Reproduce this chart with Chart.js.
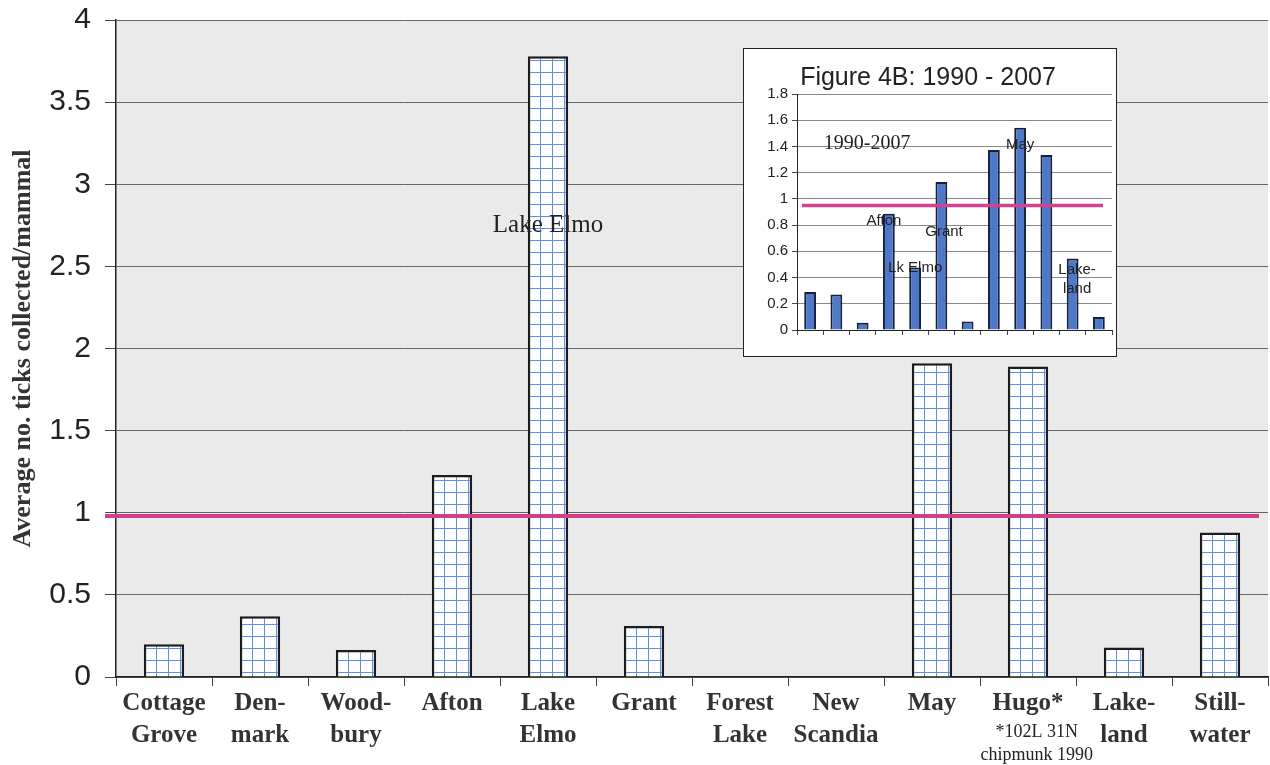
<!DOCTYPE html>
<html>
<head>
<meta charset="utf-8">
<script src="https://cdn.jsdelivr.net/npm/chart.js@4.4.1/dist/chart.umd.min.js"></script>
<style>
  html, body { margin: 0; padding: 0; background: #fff; }
  #wrap { position: relative; width: 1270px; height: 765px; }
  #mainChart { position: absolute; left: 0; top: 0; }
  #inset { position: absolute; left: 743px; top: 48px; width: 372px; height: 307px; border: 1px solid #222; background: #fff; }
  #insetChart { display: block; }
</style>
</head>
<body>
<div id="wrap">
  <canvas id="mainChart" width="1270" height="765"></canvas>
  <div id="inset"><canvas id="insetChart" width="372" height="307"></canvas></div>
</div>
<script>
// townships, 1990 sampling
var townships = [['Cottage', 'Grove'], ['Den-', 'mark'], ['Wood-', 'bury'], 'Afton', ['Lake', 'Elmo'], 'Grant',
  ['Forest', 'Lake'], ['New', 'Scandia'], 'May', 'Hugo*', ['Lake-', 'land'], ['Still-', 'water']];
var ticksPerMammal = [0.20, 0.37, 0.165, 1.23, 3.78, 0.31, 0, 0, 1.91, 1.89, 0.18, 0.88];
var mainAverage = 0.98;
var mainYMax = 4;
var mainYStep = 0.5;

// inset: Figure 4B, 1990 - 2007
var insetTitle = 'Figure 4B: 1990 - 2007';
var insetTownships = ['Cottage Grove', 'Denmark', 'Woodbury', 'Afton', 'Lake Elmo', 'Grant',
  'Forest Lake', 'New Scandia', 'May', 'Hugo', 'Lakeland', 'Stillwater'];
var insetValues = [0.29, 0.27, 0.056, 0.886, 0.476, 1.128, 0.064, 1.372, 1.543, 1.334, 0.545, 0.10];
var insetAverage = 0.95;
var insetYMax = 1.8;
var insetYStep = 0.2;

// text notes: [text, x (category index), y (value), font]
var mainNotes = [
  ['Lake Elmo', 4, 2.71, '25px "Liberation Serif"'],
  ['*102L 31N', 9.09, -0.365, '18px "Liberation Serif"'],
  ['chipmunk 1990', 9.09, -0.505, '18px "Liberation Serif"']
];
var insetNotes = [
  ['1990-2007', 2.17, 1.38, '20px "Liberation Serif"'],
  ['May', 8.0, 1.38, '15px "Liberation Sans"'],
  ['Afton', 2.81, 0.80, '15px "Liberation Sans"'],
  ['Grant', 5.1, 0.72, '15px "Liberation Sans"'],
  ['Lk Elmo', 4.0, 0.44, '15px "Liberation Sans"'],
  ['Lake-', 10.17, 0.43, '15px "Liberation Sans"'],
  ['land', 10.17, 0.28, '15px "Liberation Sans"']
];

function plainNumber(v) {
  return String(Math.round(v * 10) / 10);
}

function gridPattern(ctx) {
  var c = document.createElement('canvas');
  c.width = 12; c.height = 12;
  var g = c.getContext('2d');
  g.fillStyle = '#fff';
  g.fillRect(0, 0, 12, 12);
  g.strokeStyle = '#5c8fe4';
  g.lineWidth = 1;
  g.beginPath();
  g.moveTo(0.5, 0); g.lineTo(0.5, 12);
  g.moveTo(0, 0.5); g.lineTo(12, 0.5);
  g.stroke();
  return ctx.createPattern(c, 'repeat');
}

function refLine(value, color, width, padLeft, padRight) {
  return {
    id: 'refLine',
    afterDatasetsDraw: function (chart) {
      var a = chart.chartArea, ctx = chart.ctx;
      var y = chart.scales.y.getPixelForValue(value);
      ctx.save();
      ctx.strokeStyle = color;
      ctx.lineWidth = width;
      ctx.beginPath();
      ctx.moveTo(a.left + padLeft, y);
      ctx.lineTo(a.right - padRight, y);
      ctx.stroke();
      ctx.restore();
    }
  };
}

function notesPlugin(notes) {
  return {
    id: 'notes',
    afterDraw: function (chart) {
      var ctx = chart.ctx;
      ctx.save();
      ctx.fillStyle = '#222';
      ctx.textAlign = 'center';
      ctx.textBaseline = 'alphabetic';
      notes.forEach(function (n) {
        ctx.font = n[3];
        ctx.fillText(n[0], chart.scales.x.getPixelForValue(n[1]), chart.scales.y.getPixelForValue(n[2]));
      });
      ctx.restore();
    }
  };
}

var plotBg = {
  id: 'plotBg',
  beforeDraw: function (chart) {
    var a = chart.chartArea, ctx = chart.ctx;
    ctx.save();
    ctx.fillStyle = '#eaeaea';
    ctx.fillRect(a.left, a.top, a.right - a.left, a.bottom - a.top);
    ctx.restore();
  }
};

var mainCtx = document.getElementById('mainChart').getContext('2d');
new Chart(mainCtx, {
  type: 'bar',
  data: {
    labels: townships,
    datasets: [{
      data: ticksPerMammal,
      backgroundColor: gridPattern(mainCtx),
      borderColor: '#1c1c1c',
      borderWidth: 2.5,
      barPercentage: 0.42,
      categoryPercentage: 1
    }]
  },
  options: {
    responsive: false,
    devicePixelRatio: 1,
    animation: false,
    layout: { padding: { top: 20, right: 2, left: 0, bottom: 0 } },
    plugins: { legend: { display: false }, tooltip: { enabled: false } },
    scales: {
      x: {
        offset: true,
        afterFit: function (s) { s.height = 88; },
        grid: { drawOnChartArea: false, offset: true, tickLength: 9, color: '#444' },
        border: { color: '#222', width: 1.5 },
        ticks: {
          color: '#333', padding: 2, maxRotation: 0, autoSkip: false,
          font: { family: '"Liberation Serif"', size: 25, weight: 'bold', lineHeight: 1.28 }
        }
      },
      y: {
        min: 0, max: mainYMax,
        afterFit: function (s) { s.width = 116; s.paddingTop = 0; s.paddingBottom = 0; },
        grid: { color: '#666', tickLength: 11, tickColor: '#444' },
        border: { color: '#222', width: 1.5 },
        ticks: {
          stepSize: mainYStep, color: '#222', padding: 14, callback: plainNumber,
          font: { family: '"Liberation Sans"', size: 30 }
        },
        title: {
          display: true, text: 'Average no. ticks collected/mammal', color: '#333',
          padding: { top: 8, bottom: 0 },
          font: { family: '"Liberation Serif"', size: 26, weight: 'bold', lineHeight: 1.2 }
        }
      }
    }
  },
  plugins: [plotBg, refLine(mainAverage, '#cf3f8e', 4, -11, 9), notesPlugin(mainNotes)]
});

var insetCtx = document.getElementById('insetChart').getContext('2d');
new Chart(insetCtx, {
  type: 'bar',
  data: {
    labels: insetTownships,
    datasets: [{
      data: insetValues,
      backgroundColor: '#4f78c8',
      borderColor: '#15203a',
      borderWidth: 2,
      barPercentage: 0.45,
      categoryPercentage: 1
    }]
  },
  options: {
    responsive: false,
    devicePixelRatio: 1,
    animation: false,
    layout: { padding: { top: 0, right: 4, left: 0, bottom: 0 } },
    plugins: {
      legend: { display: false }, tooltip: { enabled: false },
      title: {
        display: true, text: insetTitle, color: '#222',
        padding: { top: 14, bottom: 1 },
        font: { family: '"Liberation Sans"', size: 25, weight: 'normal', lineHeight: 1.2 }
      }
    },
    scales: {
      x: {
        offset: true,
        afterFit: function (s) { s.height = 26; },
        grid: { drawOnChartArea: false, offset: true, tickLength: 5, color: '#444' },
        border: { color: '#222', width: 1 },
        ticks: { display: false }
      },
      y: {
        min: 0, max: insetYMax,
        afterFit: function (s) { s.width = 53; },
        grid: { color: '#888', tickLength: 5, tickColor: '#444' },
        border: { color: '#222', width: 1 },
        ticks: {
          stepSize: insetYStep, color: '#222', padding: 4, callback: plainNumber,
          font: { family: '"Liberation Sans"', size: 15 }
        }
      }
    }
  },
  plugins: [refLine(insetAverage, '#d4418f', 3.5, 5, 9), notesPlugin(insetNotes)]
});
</script>
</body>
</html>
